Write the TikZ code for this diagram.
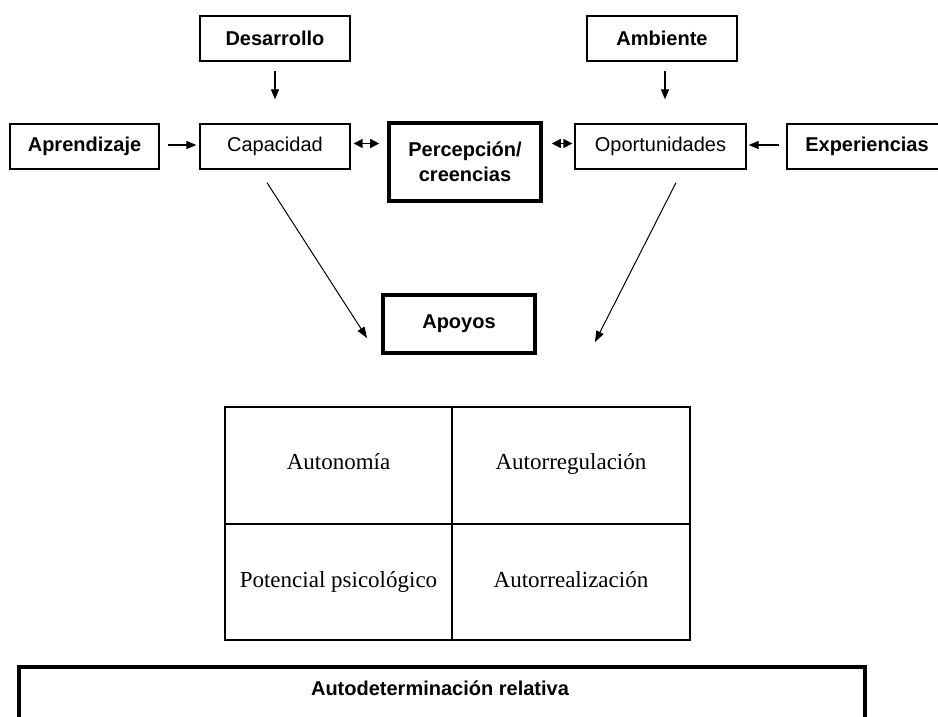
\documentclass[tikz,border=0pt]{standalone}
\usepackage{fontspec}
\setmainfont{Liberation Serif}
\newfontfamily\labelfont{Liberation Sans}
\usetikzlibrary{arrows.meta}

\tikzset{
  box/.style={draw=black, line width=1.3pt, minimum height=45pt, inner sep=0pt,
    font=\labelfont\fontsize{20}{24}\selectfont, align=center},
  keybox/.style={box, font=\labelfont\bfseries\fontsize{20}{24}\selectfont},
  heavybox/.style={keybox, line width=3.6pt},
  arr/.style={line width=1.2pt, -{Triangle[length=10pt,width=8pt]}},
  twoway/.style={line width=1.4pt, {Triangle[length=9pt,width=9pt]}-{Triangle[length=9pt,width=9pt]}},
  slant/.style={line width=1pt, -{Triangle[length=11pt,width=8pt]}},
  cell/.style={font=\fontsize{23}{27}\selectfont, anchor=base},
  gridline/.style={line width=1.2pt}
}

\begin{document}
\begin{tikzpicture}[x=1pt, y=-1pt]
  \useasboundingbox (0,0) rectangle (938,716);
  \clip (0,0) rectangle (938,716);

  % top row of sources
  \node[keybox, minimum width=150pt] (des) at (275,38.5) {Desarrollo};
  \node[keybox, minimum width=150pt] (amb) at (662,38.5) {Ambiente};

  % middle row
  \node[keybox, minimum width=149pt] (apr) at (84.5,146.5) {Aprendizaje};
  \node[box, minimum width=150pt] (cap) at (275,146.5) {Capacidad};
  \node[heavybox, minimum width=152pt, minimum height=78pt] (per) at (465,162)
    {Percepción/\\[1pt]creencias};
  \node[box, minimum width=171pt] (opo) at (660.5,146.5) {Oportunidades};
  \node[keybox, minimum width=160pt] (exp) at (867,146.5) {Experiencias};

  % supports
  \node[heavybox, minimum width=152pt, minimum height=58pt] (apo) at (459,324) {Apoyos};

  % arrow ends beside the supports box
  \coordinate (capfoot) at (367,338);
  \coordinate (opofoot) at (595,342);

  % connectors
  \draw[arr, shorten <=9pt, shorten >=24pt] (des.south) -- (des.south |- cap.north);
  \draw[arr, shorten <=9pt, shorten >=24pt] ([xshift=3pt]amb.south) -- ([xshift=3pt]amb.south |- opo.north);
  \draw[arr, shorten <=8pt, shorten >=3pt] ([yshift=1.5pt]apr.east) -- ([yshift=1.5pt]cap.west);
  \draw[arr, shorten <=7pt, shorten >=2pt] ([yshift=1.5pt]exp.west) -- ([yshift=1.5pt]opo.east);
  \draw[twoway, shorten <=3pt, shorten >=8pt] ([yshift=3pt]cap.east) -- ([yshift=3pt]cap.east -| per.west);
  \draw[twoway, shorten <=9pt, shorten >=2pt] ([yshift=3pt]opo.west -| per.east) -- ([yshift=3pt]opo.west);
  \draw[slant] ([xshift=-8pt, yshift=-13pt]cap.south) -- (capfoot);
  \draw[slant] ([xshift=15.5pt, yshift=-13pt]opo.south) -- (opofoot);

  % components grid
  \draw[gridline] (225,407) rectangle (690,640);
  \draw[gridline] (452,407) -- (452,640);
  \draw[gridline] (225,524) -- (690,524);
  \node[cell] (auton) at (338.5,469) {Autonomía};
  \node[cell] (autreg) at (571,469) {Autorregulación};
  \node[cell] (potps) at (338.5,587) {Potencial psicológico};
  \node[cell] (autrea) at (571,587) {Autorrealización};

  % outcome
  \node[draw, line width=3.6pt, minimum width=846pt, minimum height=90pt, anchor=north west,
    inner sep=0pt] (autobox) at (17,665) {};
  \node[font=\labelfont\bfseries\fontsize{20}{24}\selectfont] (autolbl) at (440,688)
    {Autodeterminación relativa};
\end{tikzpicture}
\end{document}
